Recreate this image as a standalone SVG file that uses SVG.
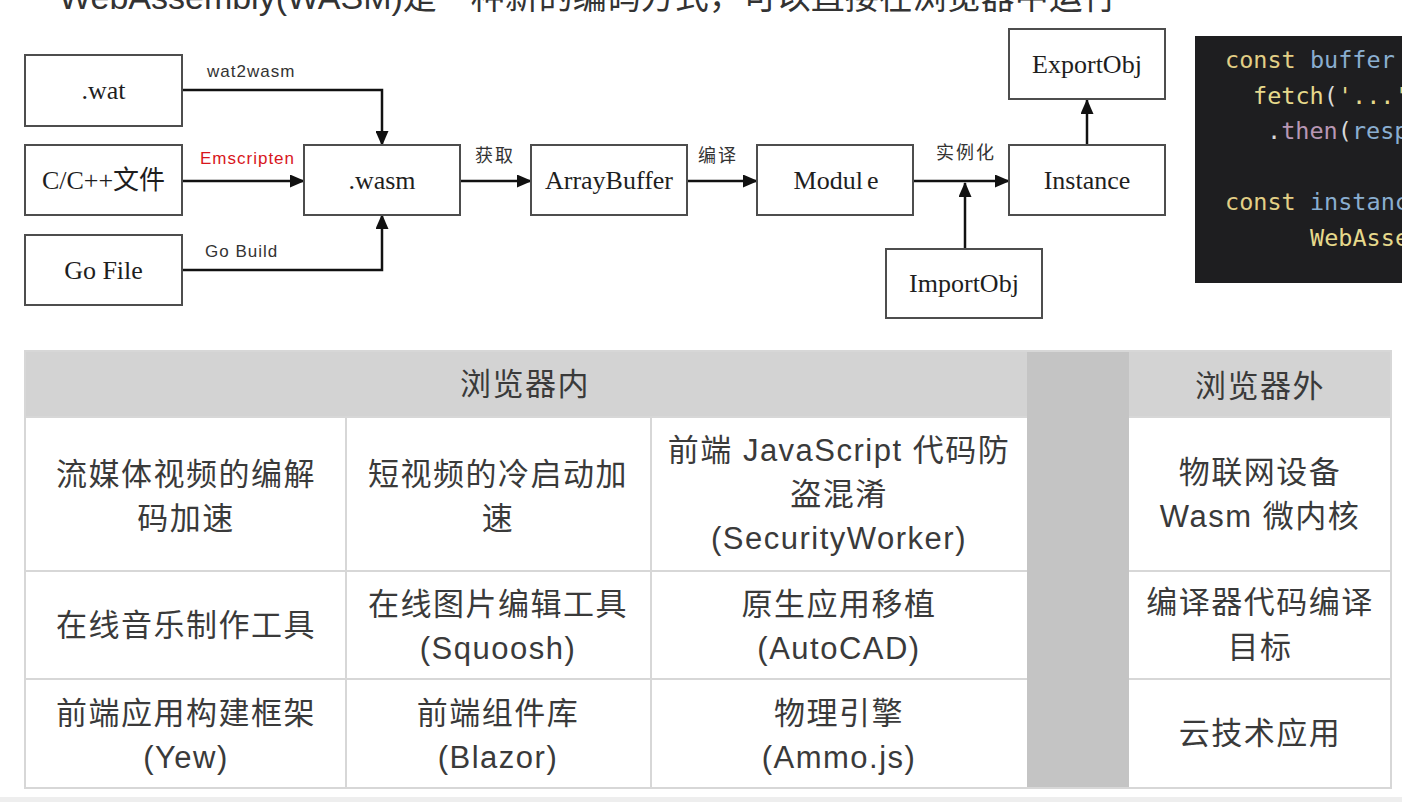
<svg xmlns="http://www.w3.org/2000/svg" width="1402" height="802" viewBox="0 0 1402 802">
<defs>
<style>
.box{fill:#fff;stroke:#4d4d4d;stroke-width:2}
.nt{font-family:"Liberation Serif","Noto Sans CJK SC",serif;font-size:26px;fill:#1e1e1e;text-anchor:middle}
.el{font-family:"Liberation Sans","Noto Sans CJK SC",sans-serif;font-size:17px;fill:#333;letter-spacing:1px}
.elc{font-family:"Noto Sans CJK SC",sans-serif;font-size:18px;fill:#333;letter-spacing:2px}
.edge{fill:none;stroke:#111;stroke-width:2.5}
.code{font-family:"DejaVu Sans Mono",monospace;font-size:23.5px}
.kw{fill:#e2cf86}.id{fill:#8aaed0}.fn{fill:#e6d98c}.pu{fill:#d8d8d8}.pr{fill:#b897b4}
.tt{font-family:"Liberation Sans","Noto Sans CJK SC",sans-serif;font-size:31px;fill:#3a3a3a;text-anchor:middle;letter-spacing:1.5px}
.grid{stroke:#d7d7d7;stroke-width:2;fill:none}
</style>
<marker id="arr" markerUnits="userSpaceOnUse" markerWidth="15" markerHeight="13" refX="14" refY="6.5" orient="auto">
<path d="M0,0 L15,6.5 L0,13 z" fill="#111"/>
</marker>
</defs>
<rect width="1402" height="802" fill="#fff"/>
<text x="59" y="9" font-family="Liberation Sans,Noto Sans CJK SC,sans-serif" font-size="34" fill="#333">WebAssembly(WASM)是一种新的编码方式，可以直接在浏览器中运行</text>

<g id="connectors">
<path class="edge" d="M182,90 H382 V145" marker-end="url(#arr)"/>
<path class="edge" d="M182,181 H304" marker-end="url(#arr)"/>
<path class="edge" d="M182,270 H382 V215" marker-end="url(#arr)"/>
<path class="edge" d="M460,181 H531" marker-end="url(#arr)"/>
<path class="edge" d="M687,181 H757" marker-end="url(#arr)"/>
<path class="edge" d="M913,181 H1009" marker-end="url(#arr)"/>
<path class="edge" d="M965,249 V183" marker-end="url(#arr)"/>
<path class="edge" d="M1087,145 V100" marker-end="url(#arr)"/>
<text class="el" x="207" y="77">wat2wasm</text>
<text class="el" x="200" y="164" style="fill:#d8161c">Emscripten</text>
<text class="el" x="205" y="257">Go Build</text>
<text class="elc" x="475" y="162">获取</text>
<text class="elc" x="698" y="162">编译</text>
<text class="elc" x="936" y="159">实例化</text>
</g>

<g id="wat"><rect class="box" x="25" y="55" width="157" height="71"/><text class="nt" x="103.5" y="99">.wat</text></g>
<g id="cpp"><rect class="box" x="25" y="145" width="157" height="70"/><text class="nt" x="103.5" y="189">C/C++文件</text></g>
<g id="gofile"><rect class="box" x="25" y="235" width="157" height="70"/><text class="nt" x="103.5" y="279">Go File</text></g>
<g id="wasm"><rect class="box" x="304" y="145" width="156" height="70"/><text class="nt" x="382" y="189">.wasm</text></g>
<g id="arraybuffer"><rect class="box" x="531" y="145" width="156" height="70"/><text class="nt" x="609" y="189">ArrayBuffer</text></g>
<g id="module"><rect class="box" x="757" y="145" width="156" height="70"/><text class="nt" x="836" y="189"><tspan>Modul</tspan><tspan dx="4">e</tspan></text></g>
<g id="instance"><rect class="box" x="1009" y="145" width="156" height="70"/><text class="nt" x="1087" y="189">Instance</text></g>
<g id="exportobj"><rect class="box" x="1009" y="29" width="156" height="70"/><text class="nt" x="1087" y="73">ExportObj</text></g>
<g id="importobj"><rect class="box" x="886" y="249" width="156" height="69"/><text class="nt" x="964" y="292">ImportObj</text></g>

<g id="code">
<rect x="1195" y="36" width="207" height="247" fill="#1e1e20"/>
<text class="code" x="1225" y="68"><tspan class="kw">const</tspan><tspan class="id"> buffer</tspan></text>
<text class="code" x="1253" y="103.5"><tspan class="fn">fetch</tspan><tspan class="pu">(</tspan><tspan class="fn">'...'</tspan></text>
<text class="code" x="1267" y="139"><tspan class="pu">.</tspan><tspan class="pr">then</tspan><tspan class="pu">(</tspan><tspan class="id">resp</tspan></text>
<text class="code" x="1225" y="210"><tspan class="kw">const</tspan><tspan class="id"> instanc</tspan></text>
<text class="code" x="1310" y="246"><tspan class="fn">WebAsse</tspan></text>
</g>

<g id="table">
<rect x="25" y="351" width="1366" height="437" fill="#fff"/>
<rect x="25" y="351" width="1002" height="66" fill="#d3d3d3"/>
<rect x="1129" y="351" width="262" height="66" fill="#d3d3d3"/>
<rect x="1027" y="351" width="102" height="437" fill="#c4c4c4"/>
<path class="grid" d="M25,417 H1027 M1129,417 H1391 M25,571 H1027 M1129,571 H1391 M25,679 H1027 M1129,679 H1391 M346,417 V788 M651,417 V788"/>
<rect class="grid" x="25" y="351" width="1366" height="437"/>
<text class="tt" x="525" y="395">浏览器内</text>
<text class="tt" x="1260" y="397">浏览器外</text>
<text class="tt" x="186" y="485">流媒体视频的编解</text>
<text class="tt" x="186" y="529">码加速</text>
<text class="tt" x="498" y="485">短视频的冷启动加</text>
<text class="tt" x="498" y="529">速</text>
<text class="tt" x="839" y="461">前端 JavaScript 代码防</text>
<text class="tt" x="839" y="505">盗混淆</text>
<text class="tt" x="839" y="549">(SecurityWorker)</text>
<text class="tt" x="1260" y="483">物联网设备</text>
<text class="tt" x="1260" y="527">Wasm 微内核</text>
<text class="tt" x="186" y="636">在线音乐制作工具</text>
<text class="tt" x="498" y="615">在线图片编辑工具</text>
<text class="tt" x="498" y="659">(Squoosh)</text>
<text class="tt" x="839" y="615">原生应用移植</text>
<text class="tt" x="839" y="659">(AutoCAD)</text>
<text class="tt" x="1260" y="613">编译器代码编译</text>
<text class="tt" x="1260" y="658">目标</text>
<text class="tt" x="186" y="724">前端应用构建框架</text>
<text class="tt" x="186" y="768">(Yew)</text>
<text class="tt" x="498" y="724">前端组件库</text>
<text class="tt" x="498" y="768">(Blazor)</text>
<text class="tt" x="839" y="724">物理引擎</text>
<text class="tt" x="839" y="768">(Ammo.js)</text>
<text class="tt" x="1260" y="744">云技术应用</text>
</g>
<rect x="0" y="797" width="1402" height="5" fill="#eeeeee"/>
</svg>
